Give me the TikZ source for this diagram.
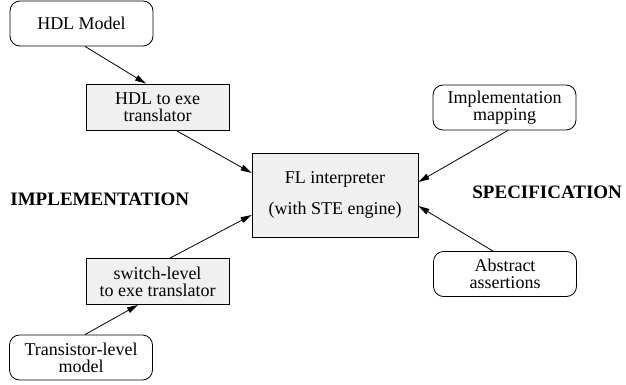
\documentclass[tikz,border=0pt]{standalone}
\usepackage{fontspec}
\setmainfont{Liberation Serif}
\usepackage{tikz}
\usetikzlibrary{arrows.meta,calc,positioning}

\begin{document}
\begin{tikzpicture}[x=1pt, y=-1pt, line width=0.8pt,
  src/.style={draw, rounded corners=10pt, minimum width=143pt, minimum height=45pt,
    inner sep=0pt, align=center, font=\fontsize{18}{17}\selectfont},
  tool/.style={draw, fill=gray!12, minimum width=143pt, minimum height=46pt,
    inner sep=0pt, align=center, font=\fontsize{18}{17}\selectfont},
  side/.style={font=\fontsize{19}{19}\selectfont\bfseries, inner sep=0pt, anchor=west},
  flow/.style={-{Triangle[length=11pt,width=6pt]}}]

\useasboundingbox (0,0) rectangle (626,385);

% implementation side
\node[src]  (hdl)   at (81.5,23.5)  {HDL Model};
\node[tool] (hdlx)  at (157.5,107)  {HDL to exe\\translator};
\node[tool] (swx)   at (157.5,281.5) {switch-level\\to exe translator};
\node[src]  (trans) at (81,357.5)   {Transistor-level\\model};
\node[side] (impl-lbl) at (10,199.5) {IMPLEMENTATION};

% interpreter
\node[tool, minimum width=166pt, minimum height=84pt, font=\fontsize{18}{31}\selectfont]
  (fl) at (335,195) {FL interpreter\\(with STE engine)};

% specification side
\node[src] (map) at (504.5,107.5) {Implementation\\mapping};
\node[src] (abs) at (505,274)     {Abstract\\assertions};
\node[side] (spec-lbl) at (472,192) {SPECIFICATION};

\draw[flow] ([xshift=3.5pt]hdl.south)  -- ([xshift=-11.5pt]hdlx.north);
\draw[flow] ([xshift=18.5pt]hdlx.south) -- ([yshift=22pt]fl.west);
\draw[flow] ([xshift=4pt]trans.north)  -- ([xshift=-19.5pt]swx.south);
\draw[flow] ([xshift=12.5pt]swx.north) -- ([yshift=-20pt]fl.west);
\draw[flow] ([xshift=3.5pt]map.south)  -- ([yshift=13pt]fl.east);
\draw[flow] ([xshift=-12pt]abs.north)  -- ([yshift=-11pt]fl.east);

\end{tikzpicture}
\end{document}
